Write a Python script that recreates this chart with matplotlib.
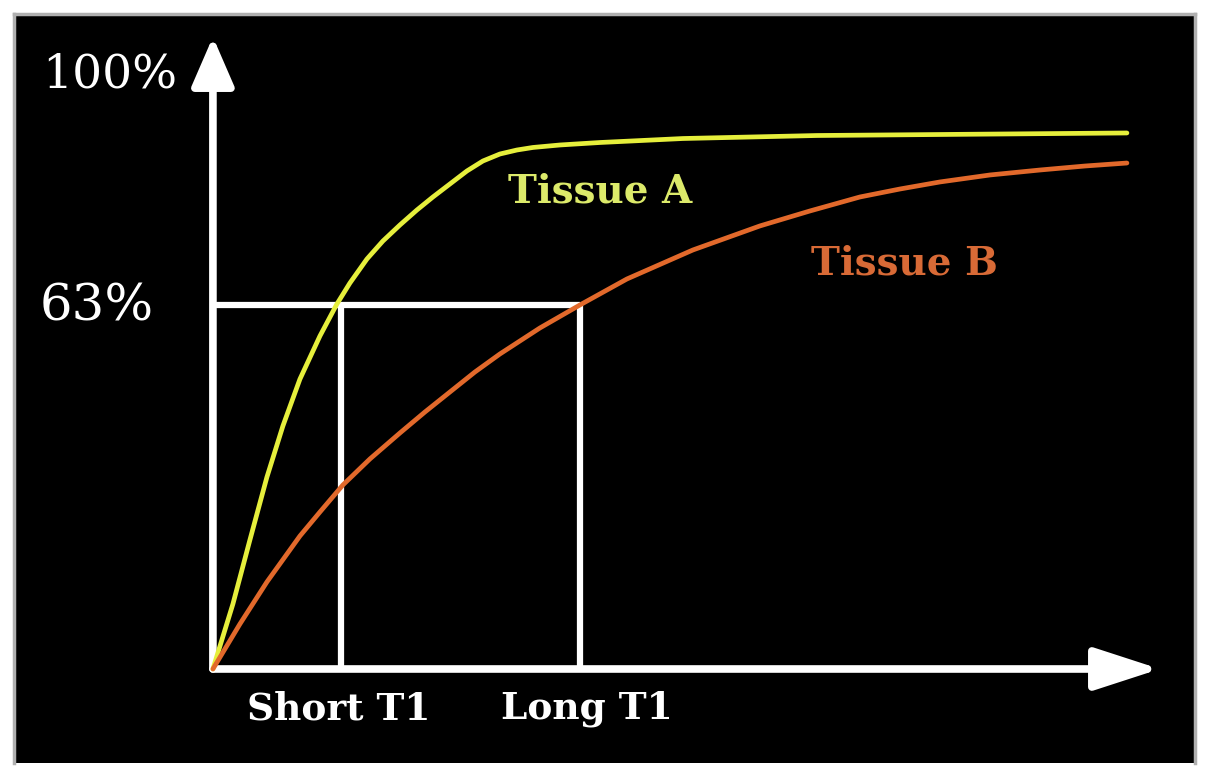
import matplotlib.pyplot as plt

# --------------------
# Data (x in units of Long T1, y in %)
# --------------------
tissue_a_t = [0.0, 0.0545, 0.1008, 0.1471, 0.1907, 0.2371, 0.2916, 0.3379,
              0.3733, 0.4196, 0.4632, 0.5095, 0.5559, 0.5995, 0.6458, 0.6921,
              0.7357, 0.7820, 0.8283, 0.8719, 0.9455, 1.0545, 1.2807, 1.6458,
              2.1444, 2.4905]
tissue_a_y = [0.0, 11.25, 22.33, 33.20, 42.06, 50.17, 57.63, 63.17,
              66.80, 70.95, 74.07, 76.84, 79.44, 81.69, 83.94, 86.19,
              87.92, 89.13, 89.82, 90.26, 90.69, 91.12, 91.81, 92.33,
              92.59, 92.77]

tissue_b_t = [0.0, 0.0736, 0.1471, 0.2371, 0.2916, 0.3542, 0.4278, 0.5095,
              0.5777, 0.6458, 0.7139, 0.7820, 0.8910, 1.0, 1.1281, 1.3079,
              1.4905, 1.6267, 1.7629, 1.8719, 1.9809, 2.1172, 2.2534, 2.3760,
              2.4905]
tissue_b_y = [0.0, 7.79, 15.06, 23.02, 27.17, 31.85, 36.35, 40.84,
              44.48, 47.94, 51.40, 54.52, 59.02, 63.0, 67.50, 72.52,
              76.68, 79.27, 81.69, 83.07, 84.29, 85.50, 86.36, 87.05,
              87.57]

level_63 = 63.0
short_t1 = 0.35
long_t1 = 1.0
x_tip = 2.58
y_tip = 109.4

yellow = "#e6ef3c"
orange = "#e2692b"

fig = plt.figure(figsize=(12.14, 7.73), dpi=100, facecolor="white")
ax = fig.add_axes([14 / 1214, 10 / 773, 1181 / 1214, 749 / 773])
ax.set_facecolor("black")
ax.set_xlim(-0.542, 2.676)
ax.set_ylim(-16.27, 113.36)
ax.set_xticks([])
ax.set_yticks([])
for side in ["left", "top", "right"]:
    ax.spines[side].set_color("#b0b0b0")
    ax.spines[side].set_linewidth(2.5)
ax.spines["bottom"].set_visible(False)

# axes arrows
arrow = dict(arrowstyle="-|>,head_length=30,head_width=13", mutation_scale=1,
             lw=5.5, color="white", shrinkA=0, shrinkB=0)
ax.annotate("", xy=(0, y_tip), xytext=(0, 0), arrowprops=arrow, zorder=2)
arrow2 = dict(arrow, arrowstyle="-|>,head_length=40,head_width=13")
ax.annotate("", xy=(x_tip, 0), xytext=(0, 0), arrowprops=arrow2, zorder=2)

# 63% guides
ax.plot([0, long_t1], [level_63, level_63], color="white", lw=4.5,
        solid_capstyle="butt", zorder=3)
for t in [short_t1, long_t1]:
    ax.plot([t, t], [0, level_63], color="white", lw=4.5,
            solid_capstyle="butt", zorder=3)

# curves
ax.plot(tissue_a_t, tissue_a_y, color=yellow, lw=3.4, zorder=4,
        solid_capstyle="round", solid_joinstyle="round")
ax.plot(tissue_b_t, tissue_b_y, color=orange, lw=3.4, zorder=4,
        solid_capstyle="round", solid_joinstyle="round")

serif = "DejaVu Serif"
ax.text(-0.281, 102.8, "100%", color="white", fontsize=34, family=serif,
        ha="center", va="center")
ax.text(-0.316, 62.7, "63%", color="white", fontsize=37, family=serif,
        ha="center", va="center")
ax.text(0.343, -6.9, "Short T1", color="white", fontsize=27, family=serif,
        weight="bold", ha="center", va="center")
ax.text(1.019, -6.9, "Long T1", color="white", fontsize=27, family=serif,
        weight="bold", ha="center", va="center")
ax.text(1.054, 82.6, "Tissue A", color="#dcea6a", fontsize=28, family=serif,
        weight="bold", ha="center", va="center")
ax.text(1.883, 70.2, "Tissue B", color="#d86a36", fontsize=28, family=serif,
        weight="bold", ha="center", va="center")

fig.savefig("out.png", dpi=100, facecolor="white")
